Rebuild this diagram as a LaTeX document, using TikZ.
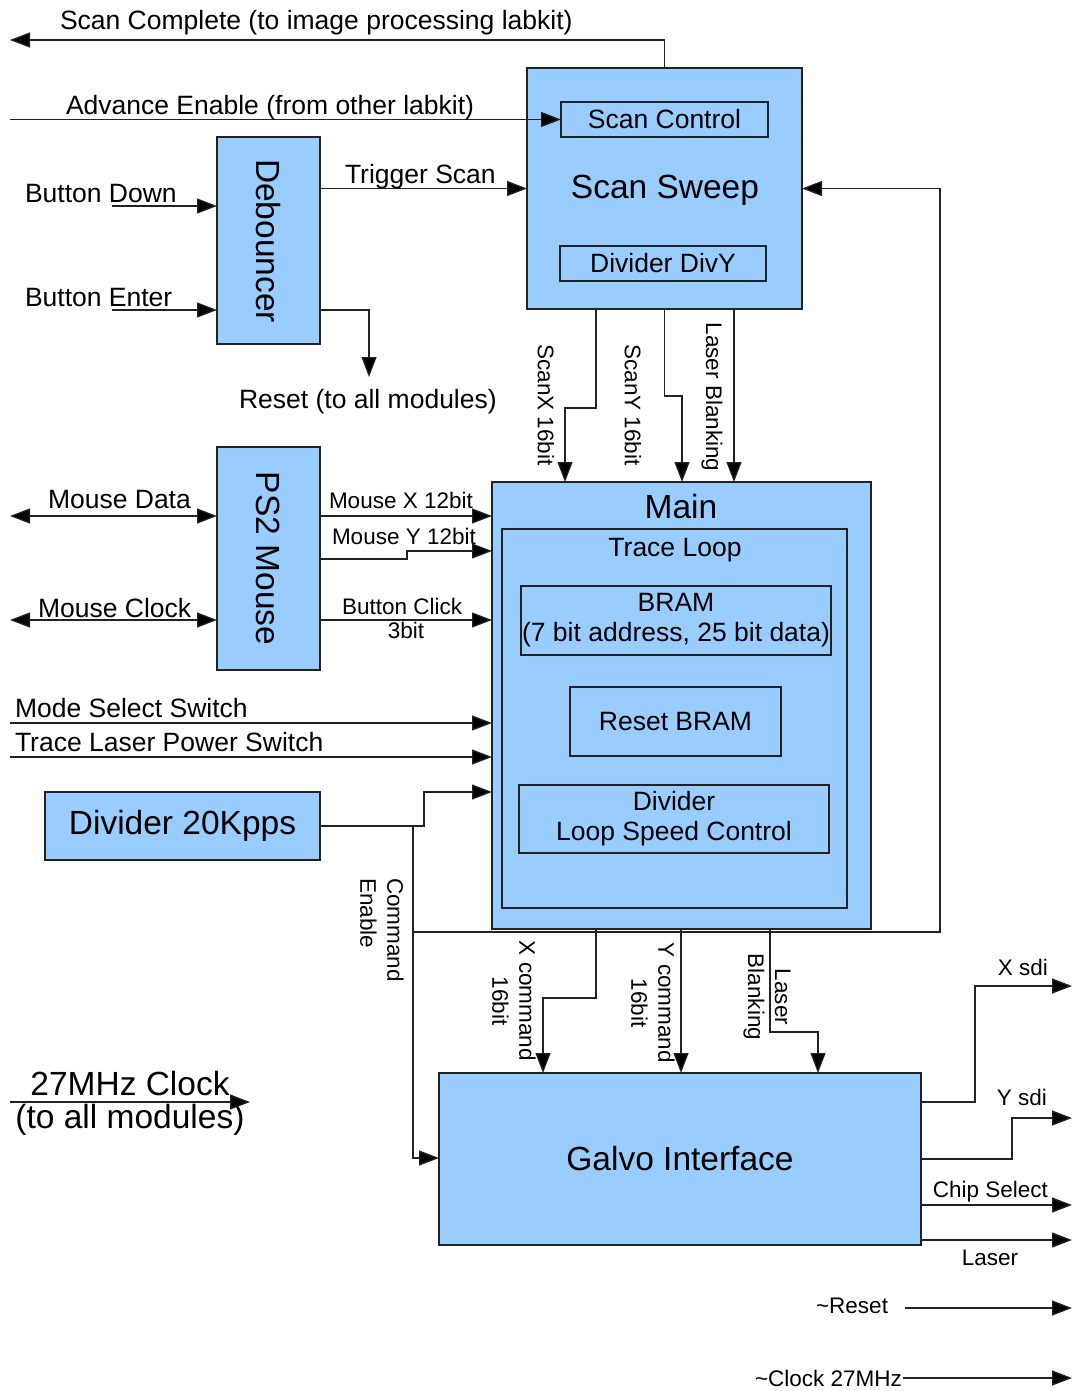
\documentclass[tikz,border=0pt]{standalone}
\usepackage{fontspec}
\setmainfont{Liberation Sans}
\usetikzlibrary{arrows.meta}
\definecolor{boxblue}{HTML}{99CCFF}
\definecolor{edge}{HTML}{222222}
\newcommand\fszL{\fontsize{33.5}{38}\selectfont}
\newcommand\fszM{\fontsize{26.5}{30}\selectfont}
\newcommand\fszS{\fontsize{22.5}{27}\selectfont}
\begin{document}
\begin{tikzpicture}[x=1pt,y=-1pt,
  blk/.style={draw=edge, fill=boxblue, line width=1.4pt, inner sep=0pt, outer sep=0pt},
  wire/.style={draw=edge, line width=1.3pt},
  arr/.style={wire, -{Triangle[length=20pt,width=15pt,fill=black]}},
  darr/.style={wire, {Triangle[length=20pt,width=15pt,fill=black]}-{Triangle[length=20pt,width=15pt,fill=black]}},
  lbl/.style={inner sep=0pt, outer sep=0pt, text=black},
  rlbl/.style={lbl, rotate=-90, font=\fszS}
]
\useasboundingbox[fill=white] (0,0) rectangle (1073,1391);

% ---------- boxes ----------
\node[blk, minimum width=275pt, minimum height=241pt] (ss) at (664.5,188.5) {};
\node[lbl, font=\fszL] (ssT) at (665,190) {Scan Sweep};
\node[blk, minimum width=207pt, minimum height=35pt, font=\fszM] (sc) at (664.5,119.5) {Scan Control};
\node[blk, minimum width=206pt, minimum height=35pt, font=\fszM] (dv) at (663,263.5) {Divider DivY};

\node[blk, minimum width=103pt, minimum height=207pt] (db) at (268.5,240.5) {};
\node[lbl, font=\fszL, rotate=-90] (dbT) at (268.5,241) {Debouncer};

\node[blk, minimum width=103pt, minimum height=223pt] (ps) at (268.5,558.5) {};
\node[lbl, font=\fszL, rotate=-90] (psT) at (268.5,558.5) {PS2 Mouse};

\node[blk, minimum width=379pt, minimum height=447pt] (mn) at (681.5,705.5) {};
\node[lbl, font=\fszL] (mnT) at (681,507) {Main};
\node[blk, minimum width=345pt, minimum height=379pt] (tl) at (674.5,718.5) {};
\node[lbl, font=\fszM] (tlT) at (675,550) {Trace Loop};
\node[blk, minimum width=310pt, minimum height=69pt, font=\fszM, align=center] (br) at (676,620.5) {BRAM\\(7 bit address, 25 bit data)};
\node[blk, minimum width=211pt, minimum height=69pt, font=\fszM] (rb) at (675.5,721.5) {Reset BRAM};
\node[blk, minimum width=310pt, minimum height=68pt, font=\fszM, align=center] (dl) at (674,819) {Divider\\Loop Speed Control};

\node[blk, minimum width=275pt, minimum height=68pt, font=\fszL] (d20) at (182.5,826) {Divider 20Kpps};
\node[blk, minimum width=482pt, minimum height=172pt, font=\fszL] (gv) at (680,1159) {Galvo Interface};

% ---------- free-end and junction coordinates ----------
\coordinate (scEnd) at (10,40);
\coordinate (aeS) at (10,119.5);
\coordinate (bdS) at (112,206);
\coordinate (beS) at (112,310);
\coordinate (rsE) at (369,377);
\coordinate (sxA) at (596,408);
\coordinate (sxB) at (565,408);
\coordinate (syA) at (664.5,396);
\coordinate (syB) at (682,396);
\coordinate (lbX) at (734,400);
\coordinate (mdL) at (10,516);
\coordinate (mcL) at (10,620);
\coordinate (myA) at (407,559);
\coordinate (myB) at (407,551);
\coordinate (msL) at (10,723);
\coordinate (tpL) at (10,757);
\coordinate (dA) at (424,826);
\coordinate (dB) at (424,792);
\coordinate (ceA) at (413,826);
\coordinate (ceB) at (413,1158);
\coordinate (fbA) at (413,932);
\coordinate (fbB) at (940,932);
\coordinate (xcA) at (596,998);
\coordinate (xcB) at (543,998);
\coordinate (ycX) at (681,1000);
\coordinate (lbA) at (770,1032);
\coordinate (lbB) at (818,1032);
\coordinate (xsA) at (975,1102);
\coordinate (xsE) at (1072,986);
\coordinate (ysA) at (1012,1159);
\coordinate (ysE) at (1072,1118);
\coordinate (csE) at (1072,1205);
\coordinate (lsE) at (1072,1240);
\coordinate (rA) at (905,1308);
\coordinate (rE) at (1072,1308);
\coordinate (cA) at (903,1378);
\coordinate (cE) at (1072,1378);
\coordinate (kA) at (10,1102);
\coordinate (kE) at (250,1102);

% ---------- connectors ----------
\draw[arr] (ss.north) |- (scEnd);
\draw[arr] (aeS) -- (sc.west);
\draw[arr] (db.east |- ss.west) -- (ss.west);
\draw[arr] (bdS) -- (bdS -| db.west);
\draw[arr] (beS) -- (beS -| db.west);
\draw[arr] (db.east |- beS) -| (rsE);

\draw[arr] (ss.south -| sxA) -- (sxA) -- (sxB) -- (sxB |- mn.north);
\draw[arr] (ss.south -| syA) -- (syA) -- (syB) -- (syB |- mn.north);
\draw[arr] (ss.south -| lbX) -- (mn.north -| lbX);

\draw[darr] (mdL) -- (mdL -| ps.west);
\draw[darr] (mcL) -- (mcL -| ps.west);
\draw[arr] (ps.east |- mdL) -- (mn.west |- mdL);
\draw[arr] (ps.east |- myA) -- (myA) -- (myB) -- (mn.west |- myB);
\draw[arr] (ps.east |- mcL) -- (mn.west |- mcL);
\draw[arr] (msL) -- (msL -| mn.west);
\draw[arr] (tpL) -- (tpL -| mn.west);
\draw[arr] (d20.east) -- (dA) -- (dB) -- (dB -| mn.west);
\draw[arr] (ceA) -- (ceB) -- (ceB -| gv.west);
\draw[arr] (fbA) -- (fbB) |- (ss.east);

\draw[arr] (mn.south -| xcA) -- (xcA) -- (xcB) -- (xcB |- gv.north);
\draw[arr] (mn.south -| ycX) -- (gv.north -| ycX);
\draw[arr] (mn.south -| lbA) -- (lbA) -- (lbB) -- (lbB |- gv.north);

\draw[arr] (gv.east |- xsA) -- (xsA) |- (xsE);
\draw[arr] (gv.east |- ysA) -- (ysA) |- (ysE);
\draw[arr] (csE -| gv.east) -- (csE);
\draw[arr] (lsE -| gv.east) -- (lsE);
\draw[arr] (rA) -- (rE);
\draw[arr] (cA) -- (cE);
\draw[arr] (kA) -- (kE);

% ---------- labels ----------
\node[lbl, font=\fszM, anchor=base west] (lSC) at (60,30) {Scan Complete (to image processing labkit)};
\node[lbl, font=\fszM, anchor=base west] (lAE) at (66,115) {Advance Enable (from other labkit)};
\node[lbl, font=\fszM, anchor=base west] (lTS) at (345,184) {Trigger Scan};
\node[lbl, font=\fszM, anchor=base west] (lBD) at (25,202) {Button Down};
\node[lbl, font=\fszM, anchor=base west] (lBE) at (25,306) {Button Enter};
\node[lbl, font=\fszM, anchor=base west] (lRS) at (239,408) {Reset (to all modules)};

\node[rlbl] (lSX) at (546,405) {ScanX 16bit};
\node[rlbl] (lSY) at (633,405) {ScanY 16bit};
\node[rlbl] (lLB) at (712,397) {Laser Blanking};

\node[lbl, font=\fszM, anchor=base west] (lMD) at (48,508) {Mouse Data};
\node[lbl, font=\fszM, anchor=base west] (lMC) at (38,617) {Mouse Clock};
\node[lbl, font=\fszS, anchor=base west] (lMX) at (329,508) {Mouse X 12bit};
\node[lbl, font=\fszS, anchor=base west] (lMY) at (332,544) {Mouse Y 12bit};
\node[lbl, font=\fszS, anchor=base west] (lBC) at (342,614) {Button Click};
\node[lbl, font=\fszS, anchor=base] (l3b) at (406,638) {3bit};
\node[lbl, font=\fszM, anchor=base west] (lMS) at (15,717) {Mode Select Switch};
\node[lbl, font=\fszM, anchor=base west] (lTL) at (15,751) {Trace Laser Power Switch};

\node[rlbl, align=left] (lCE) at (382,930) {Command\\Enable};
\node[rlbl, align=center] (lXC) at (514,1001) {X command\\16bit};
\node[rlbl, align=center] (lYC) at (653,1003) {Y command\\16bit};
\node[rlbl, align=center] (lLB2) at (767,997) {Laser\\Blanking};

\node[lbl, font=\fszL, anchor=base] (lK1) at (130,1095) {27MHz Clock};
\node[lbl, font=\fszL, anchor=base] (lK2) at (130,1128) {(to all modules)};

\node[lbl, font=\fszS, anchor=base east] (lXS) at (1048,975) {X sdi};
\node[lbl, font=\fszS, anchor=base east] (lYS) at (1047,1105) {Y sdi};
\node[lbl, font=\fszS, anchor=base east] (lCS) at (1048,1197) {Chip Select};
\node[lbl, font=\fszS, anchor=base] (lLS) at (990,1265) {Laser};
\node[lbl, font=\fszS, anchor=base east] (lRR) at (888,1313) {\char`\~Reset};
\node[lbl, font=\fszS, anchor=base east] (lCK) at (902,1386) {\char`\~Clock 27MHz};
\end{tikzpicture}
\end{document}
